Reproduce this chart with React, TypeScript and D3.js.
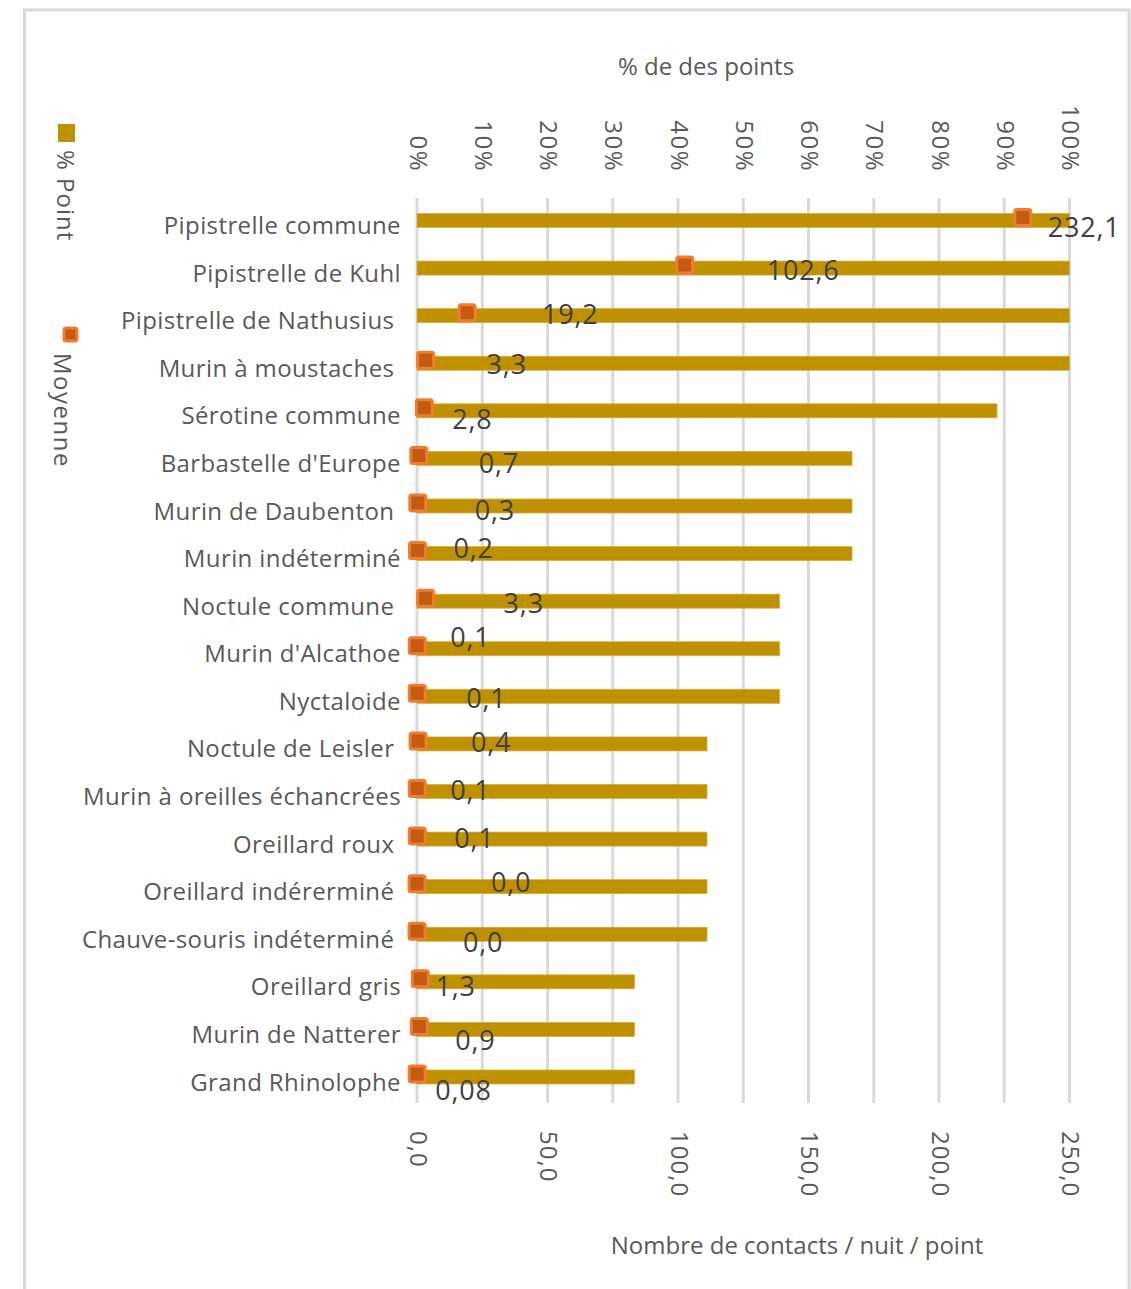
import React from "react";
import * as d3 from "d3";

const categories = [
  "Pipistrelle commune",
  "Pipistrelle de Kuhl",
  "Pipistrelle de Nathusius ",
  "Murin à moustaches ",
  "Sérotine commune",
  "Barbastelle d'Europe",
  "Murin de Daubenton ",
  "Murin indéterminé",
  "Noctule commune ",
  "Murin d'Alcathoe",
  "Nyctaloide",
  "Noctule de Leisler ",
  "Murin à oreilles échancrées",
  "Oreillard roux ",
  "Oreillard indérerminé ",
  "Chauve-souris indéterminé ",
  "Oreillard gris",
  "Murin de Natterer",
  "Grand Rhinolophe",
];

// % of points (out of 9 points)
const pctPoint = [
  1, 1, 1, 1, 8 / 9, 6 / 9, 6 / 9, 6 / 9, 5 / 9, 5 / 9, 5 / 9, 4 / 9, 4 / 9, 4 / 9, 4 / 9, 4 / 9, 3 / 9, 3 / 9, 3 / 9,
];

// Moyenne: contacts / nuit / point
const moyenne = [232.1, 102.6, 19.2, 3.3, 2.8, 0.7, 0.3, 0.2, 3.3, 0.1, 0.1, 0.4, 0.1, 0.1, 0.0, 0.0, 1.3, 0.9, 0.08];
const moyenneLabels = ["232,1", "102,6", "19,2", "3,3", "2,8", "0,7", "0,3", "0,2", "3,3", "0,1", "0,1", "0,4", "0,1", "0,1", "0,0", "0,0", "1,3", "0,9", "0,08"];

const topTicks = [0, 0.1, 0.2, 0.3, 0.4, 0.5, 0.6, 0.7, 0.8, 0.9, 1];
const bottomTicks = [0, 50, 100, 150, 200, 250];

// manual label placement (as in the original chart), relative to the marker
const labelDx = [25, 82, 75, 61, 28, 60, 57, 36, 78, 33, 49, 53, 33, 37, 74, 46, 15, 36, 18];
const labelDy = [16.5, 12, 8, 11, 18, 14.5, 14, 4.5, 12, -1.5, 11.5, 8, 8.5, 9, 5.5, 18, 14, 20.5, 23];

const W = 1131;
const H = 1289;
const FONT = "'Open Sans', sans-serif";
const GOLD = "#BF9000";
const ORANGE = "#ED7D31";
const DARKORANGE = "#C55A11";
const TXT = "#595959";

export default function App() {
  const x0 = 417;
  const x1 = 1069.5;
  const xPct = d3.scaleLinear().domain([0, 1]).range([x0, x1]);
  const xVal = d3.scaleLinear().domain([0, 250]).range([x0, x1]);
  const y = d3.scalePoint<string>().domain(categories).range([220.5, 1077]);
  const barH = 14;
  const fmtPct = d3.format(".0%");
  const fmtVal = (v: number) => d3.format(".1f")(v).replace(".", ",");

  return (
    <svg
      width={W}
      height={H}
      style={{ position: "absolute", left: 0, top: 0, display: "block", background: "#fff" }}
      fontFamily={FONT}
    >
      <rect x={24.5} y={10} width={1104.5} height={H + 20} fill="#fff" stroke="#D9D9D9" strokeWidth={3} />

      {/* gridlines */}
      {topTicks.map((t) => (
        <line key={"g" + t} x1={xPct(t)} x2={xPct(t)} y1={198} y2={1103} stroke="#D9D9D9" strokeWidth={3} />
      ))}

      {/* top axis */}
      {topTicks.map((t) => (
        <text
          key={"t" + t}
          transform={`translate(${xPct(t) + 2},172) rotate(90)`}
          textAnchor="end"
          dominantBaseline="central"
          fontSize={24}
          letterSpacing={1.5}
          fill={TXT}
        >
          {fmtPct(t)}
        </text>
      ))}
      <text x={706} y={75} textAnchor="middle" fontSize={24} fill={TXT}>
        % de des points
      </text>

      {/* bottom axis */}
      {bottomTicks.map((t) => (
        <text
          key={"b" + t}
          transform={`translate(${xVal(t) + 2},1131) rotate(90)`}
          textAnchor="start"
          dominantBaseline="central"
          fontSize={24}
          letterSpacing={1}
          fill={TXT}
        >
          {fmtVal(t)}
        </text>
      ))}
      <text x={797} y={1254} textAnchor="middle" fontSize={24} fill={TXT}>
        Nombre de contacts / nuit / point
      </text>

      {/* bars */}
      {categories.map((c, i) => (
        <rect
          key={"bar" + i}
          x={x0}
          y={(y(c) as number) - barH / 2}
          width={xPct(pctPoint[i]) - x0}
          height={barH}
          fill={GOLD}
          stroke="#D6AE3A"
          strokeWidth={0.8}
        />
      ))}

      {/* category labels */}
      {categories.map((c, i) => (
        <text
          key={"cat" + i}
          x={401}
          y={(y(c) as number) + 13.5}
          textAnchor="end"
          fontSize={24}
          letterSpacing={0.4}
          fill={TXT}
          style={{ whiteSpace: "pre" }}
        >
          {c}
        </text>
      ))}

      {/* markers */}
      {categories.map((c, i) => (
        <rect
          key={"m" + i}
          x={xVal(moyenne[i]) - 8}
          y={(y(c) as number) - 3 - 8}
          width={16}
          height={16}
          rx={2}
          fill={DARKORANGE}
          stroke={ORANGE}
          strokeWidth={3}
        />
      ))}

      {/* data labels */}
      {categories.map((c, i) => (
        <text
          key={"l" + i}
          x={xVal(moyenne[i]) + labelDx[i]}
          y={(y(c) as number) + labelDy[i]}
          fontSize={27}
          letterSpacing={0.8}
          fill="#404040"
        >
          {moyenneLabels[i]}
        </text>
      ))}

      {/* legend */}
      <rect x={58} y={124} width={17} height={18} fill={GOLD} />
      <text transform="translate(66,150) rotate(90)" dominantBaseline="central" fontSize={24} letterSpacing={1} fill={TXT}>
        % Point
      </text>
      <rect x={64} y={328} width={13} height={13} rx={2} fill={DARKORANGE} stroke={ORANGE} strokeWidth={3} />
      <text transform="translate(63,353) rotate(90)" dominantBaseline="central" fontSize={24} letterSpacing={1.5} fill={TXT}>
        Moyenne
      </text>
    </svg>
  );
}
